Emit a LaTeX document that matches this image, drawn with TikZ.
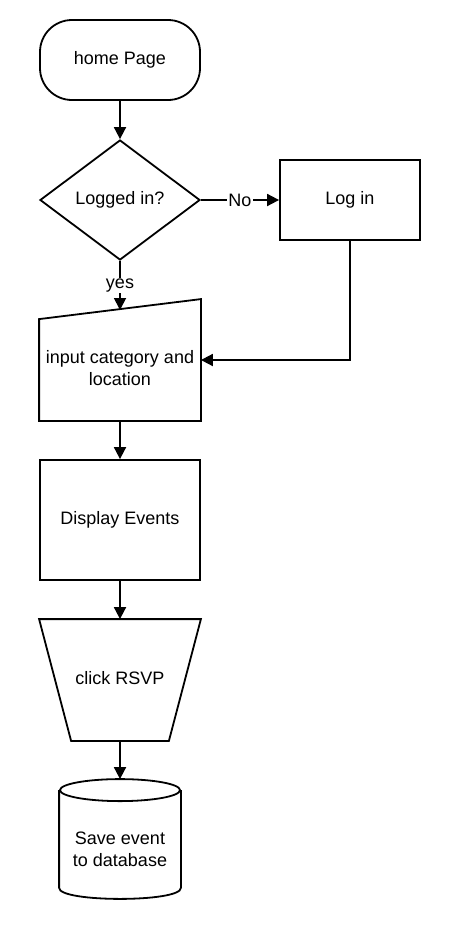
\documentclass[tikz,border=0pt]{standalone}
\usepackage{fontspec}
\setmainfont{Liberation Sans}
\usetikzlibrary{shapes.geometric,arrows.meta}
\begin{document}
\begin{tikzpicture}[x=1pt,y=-1pt,line width=1.8pt,line join=miter,
  txt/.style={font=\fontsize{18}{22}\selectfont,align=center,inner sep=0pt},
  arr/.style={-{Triangle[length=12pt,width=12pt]},line width=1.8pt},
  lbl/.style={fill=white,inner sep=1pt,font=\fontsize{18}{22}\selectfont}]
\useasboundingbox (0,0) rectangle (460,940);
\node[draw,rounded corners=32pt,minimum width=160pt,minimum height=80pt,txt] (home) at (120,60) {home Page};
\node[draw,diamond,aspect=1.333,minimum width=160pt,minimum height=120pt,txt] (logged) at (120,200) {Logged in?};
\node[draw,minimum width=140pt,minimum height=80pt,txt] (login) at (350,200) {Log in};
\node[minimum width=160pt,minimum height=120pt,inner sep=0pt] (input) at (120,360) {};
\draw (input.south west) -- ([yshift=-20pt]input.north west) -- (input.north east) -- (input.south east) -- cycle;
\node[txt] (inputtxt) at (120,368) {input category and\\location};
\coordinate (intop) at (120,310);
\node[draw,minimum width=160pt,minimum height=120pt,txt] (disp) at (120,520) {Display Events};
\node[minimum width=160pt,minimum height=120pt,inner sep=0pt] (rsvp) at (120,680) {};
\draw (rsvp.north west) -- (rsvp.north east) -- ([xshift=-32pt]rsvp.south east) -- ([xshift=32pt]rsvp.south west) -- cycle;
\node[txt] (rsvptxt) at (120,678) {click RSVP};
\node[minimum width=120pt,minimum height=118pt,inner sep=0pt] (db) at (120,839) {};
\draw ([yshift=-11pt]db.north west) -- ([yshift=11pt]db.south west) .. controls ([yshift=-3.67pt]db.south west) and ([yshift=-3.67pt]db.south east) .. ([yshift=11pt]db.south east) -- ([yshift=-11pt]db.north east);
\draw ([yshift=-11pt]db.north) ellipse [x radius=60pt,y radius=11pt];
\node[txt] (dbtxt) at (120,849) {Save event\\to database};
\draw[arr] (home.south) -- (logged.north);
\draw[arr] (logged.east) -- node[lbl] {No} (login.west);
\draw[arr] (logged.south) -- node[lbl,pos=0.5] {yes} (intop);
\draw[arr] (login.south) |- (input.east);
\draw[arr] (input.south) -- (disp.north);
\draw[arr] (disp.south) -- (rsvp.north);
\draw[arr] (rsvp.south) -- (db.north);
\end{tikzpicture}
\end{document}
